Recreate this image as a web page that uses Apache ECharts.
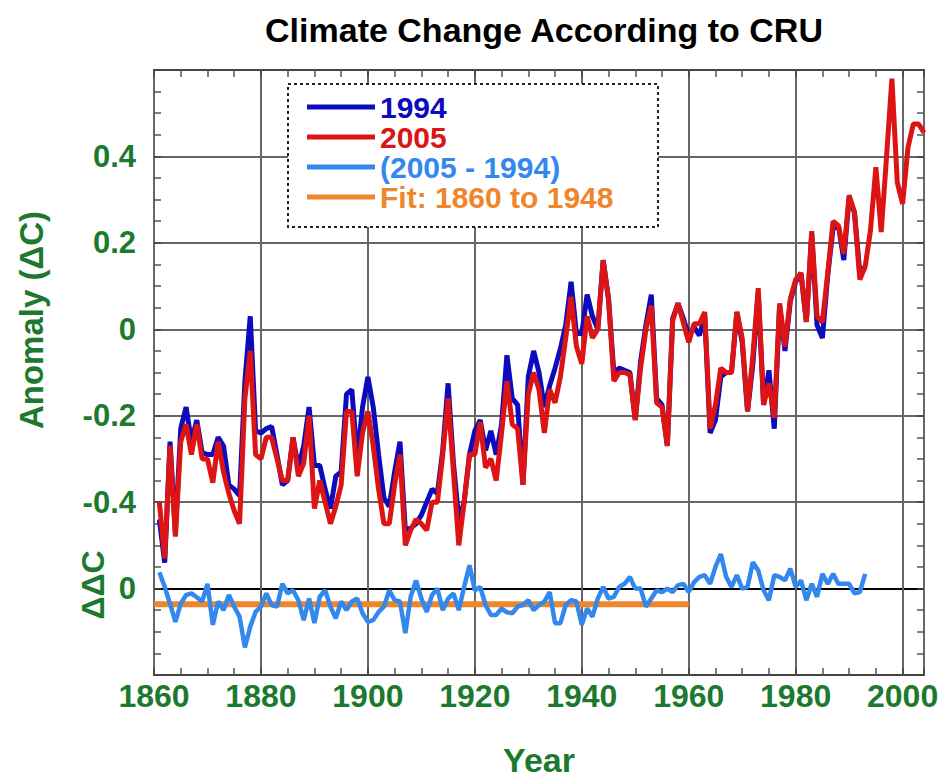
<!DOCTYPE html>
<html>
<head>
<meta charset="utf-8">
<title>Climate Change According to CRU</title>
<script src="https://cdn.jsdelivr.net/npm/echarts@6/dist/echarts.min.js"></script>
<style>
  html, body { margin: 0; padding: 0; background: #fff; }
  #chart { width: 942px; height: 782px; }
</style>
</head>
<body>
<div id="chart"></div>
<script>
// annual anomalies, first year 1861
var firstYear = 1861;

// CRU 2005 version (1861-2004)
var cru2005 = [
  -0.40, -0.53, -0.27, -0.48, -0.26, -0.22, -0.29, -0.22, -0.30, -0.30,   // 1861-1870
  -0.355, -0.26, -0.33, -0.38, -0.42, -0.45, -0.16, -0.05, -0.29, -0.30,  // 1871-1880
  -0.25, -0.25, -0.30, -0.35, -0.35, -0.25, -0.34, -0.31, -0.20, -0.415,  // 1881-1890
  -0.35, -0.40, -0.45, -0.41, -0.36, -0.19, -0.19, -0.34, -0.24, -0.19,   // 1891-1900
  -0.27, -0.37, -0.45, -0.45, -0.36, -0.29, -0.50, -0.465, -0.44, -0.45,  // 1901-1910
  -0.465, -0.40, -0.40, -0.29, -0.16, -0.33, -0.50, -0.40, -0.29, -0.29,  // 1911-1920
  -0.215, -0.32, -0.30, -0.35, -0.24, -0.12, -0.22, -0.23, -0.36, -0.15,  // 1921-1930
  -0.10, -0.14, -0.24, -0.14, -0.17, -0.11, -0.02, 0.075, -0.04, -0.08,   // 1931-1940
  0.03, -0.02, 0.00, 0.16, 0.07, -0.12, -0.10, -0.10, -0.105, -0.21,      // 1941-1950
  -0.09, 0.00, 0.055, -0.17, -0.18, -0.27, 0.02, 0.06, 0.015, -0.03,      // 1951-1960
  0.013, 0.013, 0.04, -0.23, -0.175, -0.09, -0.10, -0.10, 0.04, -0.02,    // 1961-1970
  -0.19, -0.06, 0.095, -0.175, -0.125, -0.205, 0.06, -0.04, 0.07, 0.115,  // 1971-1980
  0.13, 0.017, 0.227, 0.03, 0.017, 0.13, 0.25, 0.24, 0.175, 0.31,         // 1981-1990
  0.27, 0.115, 0.145, 0.23, 0.375, 0.225, 0.40, 0.58, 0.34, 0.29,         // 1991-2000
  0.42, 0.475, 0.475, 0.455                                               // 2001-2004
];

// CRU 1994 version (1861-1993)
var cru1994 = [
  -0.44, -0.54, -0.26, -0.47, -0.23, -0.18, -0.26, -0.21, -0.285, -0.29,  // 1861-1870
  -0.29, -0.25, -0.27, -0.36, -0.37, -0.385, -0.12, 0.03, -0.235, -0.24,  // 1871-1880
  -0.23, -0.225, -0.29, -0.36, -0.35, -0.25, -0.32, -0.27, -0.18, -0.315, // 1881-1890
  -0.315, -0.37, -0.415, -0.34, -0.33, -0.15, -0.14, -0.30, -0.18, -0.11, // 1891-1900
  -0.18, -0.29, -0.39, -0.41, -0.33, -0.26, -0.465, -0.46, -0.45, -0.43,  // 1901-1910
  -0.40, -0.37, -0.38, -0.28, -0.125, -0.31, -0.44, -0.40, -0.29, -0.235, // 1911-1920
  -0.21, -0.28, -0.235, -0.29, -0.22, -0.06, -0.16, -0.175, -0.36, -0.11, // 1921-1930
  -0.05, -0.10, -0.18, -0.13, -0.09, -0.045, 0.01, 0.11, -0.01, -0.01,    // 1931-1940
  0.08, 0.03, 0.00, 0.16, 0.07, -0.10, -0.09, -0.095, -0.10, -0.21,       // 1941-1950
  -0.075, 0.01, 0.08, -0.16, -0.175, -0.27, 0.025, 0.06, 0.025, -0.015,   // 1951-1960
  0.005, -0.014, 0.03, -0.24, -0.21, -0.11, -0.10, -0.10, 0.04, -0.03,    // 1961-1970
  -0.19, -0.08, 0.085, -0.175, -0.095, -0.23, 0.055, -0.05, 0.065, 0.11,  // 1971-1980
  0.13, 0.017, 0.22, 0.01, -0.02, 0.125, 0.235, 0.24, 0.16, 0.305,        // 1981-1990
  0.27, 0.13, 0.145                                                       // 1991-1993
];

// difference (2005 - 1994), 1861-1993
var cruDiff = [
  0.038, 0.004, -0.035, -0.077, -0.035, -0.015, -0.011, -0.02, -0.03, 0.011,     // 1861-1870
  -0.084, -0.03, -0.05, -0.015, -0.042, -0.065, -0.136, -0.088, -0.054, -0.042,  // 1871-1880
  -0.011, -0.038, -0.042, 0.011, -0.011, -0.004, -0.027, -0.073, -0.023, -0.08,  // 1881-1890
  -0.019, -0.004, -0.042, -0.069, -0.03, -0.05, -0.03, -0.023, -0.057, -0.077,   // 1891-1900
  -0.073, -0.054, -0.042, -0.004, -0.027, -0.03, -0.103, -0.019, 0.019, -0.023,  // 1901-1910
  -0.054, -0.015, 0.0, -0.05, -0.023, -0.011, -0.05, 0.004, 0.054, -0.004,       // 1911-1920
  0.004, -0.038, -0.061, -0.061, -0.046, -0.055, -0.057, -0.042, -0.038, -0.027, // 1921-1930
  -0.05, -0.038, -0.03, -0.008, -0.08, -0.08, -0.038, -0.027, -0.03, -0.084,     // 1931-1940
  -0.046, -0.065, -0.023, 0.004, -0.023, -0.019, 0.004, 0.011, 0.027, 0.0,       // 1941-1950
  0.0, -0.042, -0.023, -0.004, -0.008, 0.0, -0.008, 0.008, 0.011, -0.008,        // 1951-1960
  0.015, 0.027, 0.031, 0.011, 0.05, 0.08, 0.027, 0.004, 0.031, 0.0,              // 1961-1970
  0.004, 0.061, 0.042, -0.004, -0.027, 0.031, 0.027, 0.019, 0.046, 0.004,        // 1971-1980
  0.019, -0.027, 0.011, -0.019, 0.034, 0.011, 0.034, 0.011, 0.011, 0.011,        // 1981-1990
  -0.011, -0.008, 0.034                                                          // 1991-1993
];

// constant fit of the difference over 1860-1948, drawn to 1960
var fitYears = [1860, 1960];
var fitValues = [-0.036, -0.036];

// the difference panel sits on the same axis, its zero at -0.6
var diffOffset = -0.6;

var xTicks = [1860, 1880, 1900, 1920, 1940, 1960, 1980, 2000];

var green = '#1c7a2e';
var font = '"Liberation Sans", Arial, Helvetica, sans-serif';

function pairs(vals, offset) {
  return vals.map(function (v, i) { return [firstYear + i, v + (offset || 0)]; });
}

var tickStyle = { inside: true, length: 7, lineStyle: { color: '#444', width: 1.5 } };
var minorStyle = { show: true, splitNumber: 4, length: 7, lineStyle: { color: '#555', width: 1.5 } };

var myChart = echarts.init(document.getElementById('chart'), null, {renderer: 'svg'});

option = {
    animation: false,
    backgroundColor: '#fff',
    title: {
        text: 'Climate Change According to CRU',
        left: 539,
        top: 8,
        textAlign: 'center',
        textStyle: { fontFamily: font, fontSize: 34, fontWeight: 'bold', color: '#000' }
    },
    grid: {
        left: 154, right: 18, top: 70, bottom: 104,
        show: true, borderColor: '#444', borderWidth: 2
    },
    legend: {
        orient: 'vertical',
        left: 302,
        top: 87,
        icon: 'rect',
        itemWidth: 68,
        itemHeight: 5,
        itemGap: 0,
        textStyle: { fontFamily: font, fontSize: 30, fontWeight: 'bold', lineHeight: 30 },
        data: [
            { name: '1994', textStyle: { color: '#0c0cbe' } },
            { name: '2005', textStyle: { color: '#dd1414' } },
            { name: '(2005 - 1994)', textStyle: { color: '#3388ee' } },
            { name: 'Fit: 1860 to 1948', textStyle: { color: '#f0862a' } }
        ]
    },
    graphic: [
        {
            type: 'rect', z: 3,
            shape: { x: 288, y: 84, width: 370, height: 143 },
            style: { fill: '#fff', stroke: '#222', lineWidth: 2, lineDash: [3, 3] }
        },
        {
            type: 'text', x: 31, y: 320, rotation: Math.PI / 2,
            style: { text: 'Anomaly (ΔC)', fill: green, font: 'bold 33px ' + font,
                     textAlign: 'center', textVerticalAlign: 'middle' }
        },
        {
            type: 'text', x: 93, y: 585, rotation: Math.PI / 2,
            style: { text: 'ΔΔC', fill: green, font: 'bold 32px ' + font,
                     textAlign: 'center', textVerticalAlign: 'middle' }
        }
    ],
    xAxis: [
        {
            type: 'value', min: 1860, max: 2004, interval: 20,
            name: 'Year', nameLocation: 'middle', nameGap: 68,
            nameTextStyle: { fontFamily: font, fontSize: 34, fontWeight: 'bold', color: green },
            axisLine: { show: false, onZero: false },
            axisTick: tickStyle,
            minorTick: minorStyle,
            axisLabel: {
                margin: 5, fontFamily: font, fontSize: 32, fontWeight: 'bold', color: green,
                formatter: function (v) { return xTicks.indexOf(v) >= 0 ? String(v) : ''; }
            },
            splitLine: { show: true, lineStyle: { color: '#666', width: 2 } }
        },
        {
            type: 'value', min: 1860, max: 2004, interval: 20, position: 'top',
            axisLine: { show: false, onZero: false },
            axisLabel: { show: false },
            axisTick: tickStyle,
            minorTick: minorStyle,
            splitLine: { show: false }
        }
    ],
    yAxis: [
        {
            type: 'value', min: -0.8, max: 0.6, interval: 0.2,
            axisLine: { show: false, onZero: false },
            axisTick: tickStyle,
            minorTick: minorStyle,
            axisLabel: {
                margin: 18, fontFamily: font, fontSize: 31, fontWeight: 'bold', color: green,
                formatter: function (v) {
                    var r = Math.round(v * 10) / 10;
                    if (r === 0.6 || r === -0.8) return '';
                    if (r === diffOffset) return '0';
                    return r === 0 ? '0' : r.toFixed(1);
                }
            },
            splitLine: {
                show: true,
                lineStyle: { width: 2, color: ['#444', '#000', '#666', '#666', '#666', '#666', '#666', '#444'] }
            }
        },
        {
            type: 'value', min: -0.8, max: 0.6, interval: 0.2, position: 'right',
            axisLine: { show: false, onZero: false },
            axisLabel: { show: false },
            axisTick: tickStyle,
            minorTick: minorStyle,
            splitLine: { show: false }
        }
    ],
    series: [
        {
            name: '1994', type: 'line', symbol: 'none', z: 2,
            color: '#0c0cbe',
            lineStyle: { width: 5, color: '#0c0cbe' },
            data: pairs(cru1994)
        },
        {
            name: '2005', type: 'line', symbol: 'none', z: 3,
            color: '#dd1414',
            lineStyle: { width: 5, color: '#dd1414' },
            data: pairs(cru2005)
        },
        {
            name: 'Fit: 1860 to 1948', type: 'line', symbol: 'none', z: 3,
            color: '#f0862a',
            lineStyle: { width: 6, color: '#f0862a' },
            data: fitYears.map(function (y, i) { return [y, fitValues[i] + diffOffset]; })
        },
        {
            name: '(2005 - 1994)', type: 'line', symbol: 'none', z: 4,
            color: '#3388ee',
            lineStyle: { width: 4.5, color: '#3388ee' },
            data: pairs(cruDiff, diffOffset)
        }
    ]
};
myChart.setOption(option);
</script>
</body>
</html>
